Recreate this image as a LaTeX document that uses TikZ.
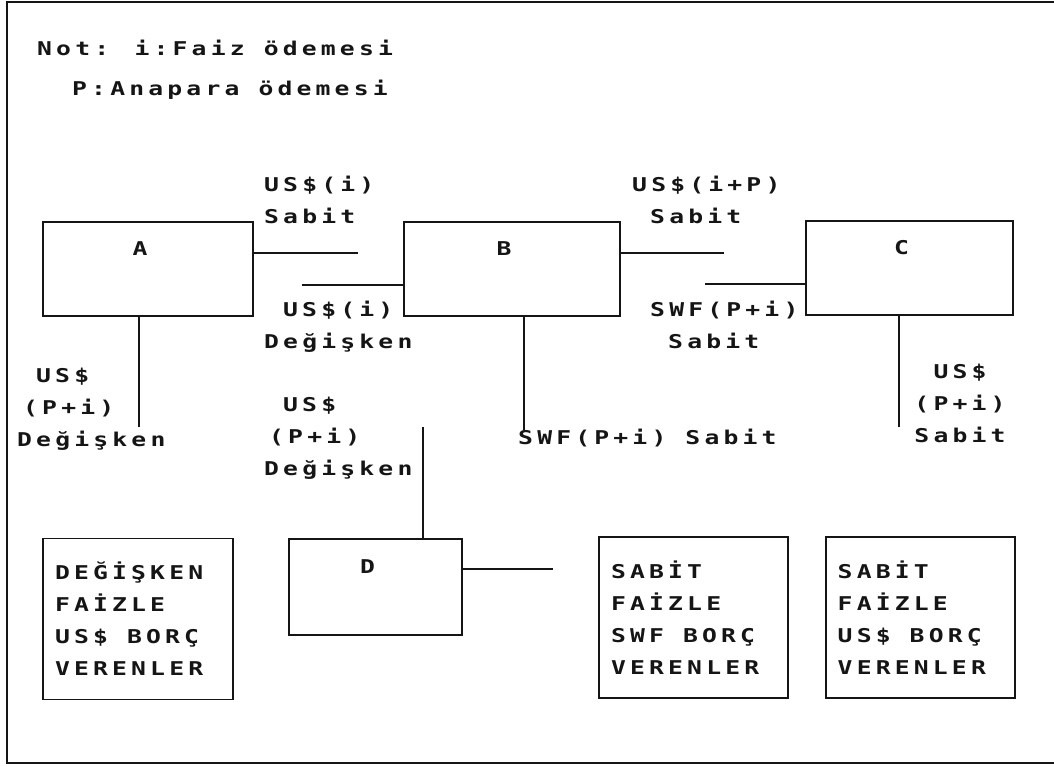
\documentclass[tikz,border=0pt]{standalone}
\usepackage{fontspec}
\usetikzlibrary{positioning}
\newfontfamily\dotfont[FakeStretch=1.3,LetterSpace=22]{DejaVu Sans Mono}
\newcommand{\tagfont}{\dotfont\bfseries\fontsize{19}{32}\selectfont}
\newcommand{\notefont}{\dotfont\bfseries\fontsize{19}{40}\selectfont}
\definecolor{Ink}{HTML}{151515}
\tikzset{
  party/.style={
    draw=Ink, line width=1.7pt, inner sep=0pt,
    minimum width=210pt, minimum height=94pt
  },
  lender/.style={
    draw=Ink, line width=1.7pt, text=Ink, font=\tagfont, align=left,
    text width=166pt, inner xsep=12pt, minimum height=161pt,
    execute at begin node={\spaceskip=0pt\relax}
  },
  flowtext/.style={text=Ink, font=\tagfont, inner sep=0pt},
  boxtag/.style={flowtext, xshift=-8pt, yshift=20pt},
  link/.style={draw=Ink, line width=1.7pt}
}

\begin{document}
\begin{tikzpicture}[x=1pt,y=-1pt]
    \useasboundingbox (0,0) rectangle (1054,766);
    \draw[link] (1054,2) -- (7,2) -- (7,763) -- (1054,763);

    \node[flowtext,anchor=north west,align=left,font=\notefont] (note) at (37,40)
      {Not: i:Faiz ödemesi\\\hspace*{35pt}P:Anapara ödemesi};

    \node[party] (A) at (148,269) {};
    \node[party,minimum width=216pt] (B) at (512,269) {};
    \node[party,minimum width=207pt] (C) at (909.5,268) {};
    \node[party,minimum width=173pt,minimum height=96pt] (D) at (375.5,587) {};
    \node[boxtag] at (A.center) {A};
    \node[boxtag] at (B.center) {B};
    \node[boxtag] at (C.center) {C};
    \node[boxtag] at (D.center) {D};

    \node[lender] (floatlend) at (138,619) {DEĞİŞKEN\\FAİZLE\\US\$ BORÇ\\VERENLER};
    \node[lender,text width=165pt] (swflend) at (693.5,617.5) {SABİT\\FAİZLE\\SWF BORÇ\\VERENLER};
    \node[lender,text width=165pt,right=36pt of swflend] (uslend) {SABİT\\FAİZLE\\US\$ BORÇ\\VERENLER};

    \coordinate (ABtop) at (358,253);
    \coordinate (ABbot) at (302,285);
    \coordinate (BCtop) at (724,253);
    \coordinate (BCbot) at (705,284);
    \coordinate (Adown) at (139,427);
    \coordinate (Bdown) at (524,430);
    \coordinate (Cdown) at (899,427);
    \coordinate (Dup) at (423,427);
    \coordinate (Dright) at (553,569);
    \draw[link] (A.east |- ABtop) -- (ABtop);
    \draw[link] (ABbot) -- (ABbot -| B.west);
    \draw[link] (B.east |- BCtop) -- (BCtop);
    \draw[link] (BCbot) -- (BCbot -| C.west);
    \draw[link] (Adown |- A.south) -- (Adown);
    \draw[link] (Bdown |- B.south) -- (Bdown);
    \draw[link] (Cdown |- C.south) -- (Cdown);
    \draw[link] (Dup) -- (Dup |- D.north);
    \draw[link] (D.east |- Dright) -- (Dright);

    \node[flowtext,anchor=north west,align=left] (fixAB) at (264,176) {US\$(i)\\Sabit};
    \node[flowtext,anchor=north west,align=left] (floatAB) at (264,301) {\hspace*{19pt}US\$(i)\\Değişken};
    \node[flowtext,anchor=north west,align=left] (fixBC) at (632,176) {US\$(i+P)\\\hspace*{18pt}Sabit};
    \node[flowtext,anchor=north west,align=left] (swfBC) at (650,301) {SWF(P+i)\\\hspace*{18pt}Sabit};
    \node[flowtext,anchor=north west,align=left] (usA) at (17,368) {\hspace*{19pt}US\$\\\hspace*{6pt}(P+i)\\Değişken};
    \node[flowtext,anchor=north west,align=left] (usD) at (264,397) {\hspace*{19pt}US\$\\\hspace*{5pt}(P+i)\\Değişken};
    \node[flowtext,anchor=north west] (swfB) at (518,429) {SWF(P+i) Sabit};
    \node[flowtext,anchor=north,align=center] (usC) at (960,364) {US\$\\(P+i)\\Sabit};
\end{tikzpicture}
\end{document}
